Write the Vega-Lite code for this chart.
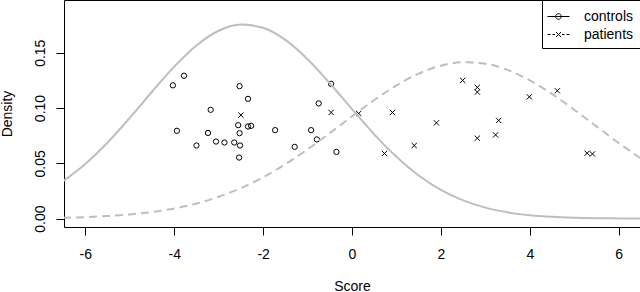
{
  "$schema": "https://vega.github.io/schema/vega-lite/v6.json",
  "width": 576,
  "height": 227,
  "autosize": {"type": "none"},
  "padding": {"left": 64, "top": 0, "right": 0, "bottom": 65},
  "background": "white",
  "config": {
    "font": "Liberation Sans",
    "view": {"stroke": "black", "strokeWidth": 1},
    "axis": {"grid": false, "domain": false, "tickColor": "black", "tickWidth": 1, "tickSize": 8, "labelColor": "black", "labelFontSize": 14, "titleColor": "black", "titleFontSize": 14, "titleFontWeight": "normal"}
  },
  "datasets": {
    "points": [
      {"Score": -4.03, "Density": 0.1205, "group": "controls"},
      {"Score": -3.78, "Density": 0.1292, "group": "controls"},
      {"Score": -3.94, "Density": 0.0794, "group": "controls"},
      {"Score": -3.50, "Density": 0.0661, "group": "controls"},
      {"Score": -3.18, "Density": 0.0984, "group": "controls"},
      {"Score": -3.24, "Density": 0.0775, "group": "controls"},
      {"Score": -3.06, "Density": 0.0697, "group": "controls"},
      {"Score": -2.87, "Density": 0.0688, "group": "controls"},
      {"Score": -2.65, "Density": 0.0688, "group": "controls"},
      {"Score": -2.53, "Density": 0.1198, "group": "controls"},
      {"Score": -2.34, "Density": 0.1083, "group": "controls"},
      {"Score": -2.56, "Density": 0.0845, "group": "controls"},
      {"Score": -2.53, "Density": 0.0773, "group": "controls"},
      {"Score": -2.52, "Density": 0.0661, "group": "controls"},
      {"Score": -2.54, "Density": 0.0552, "group": "controls"},
      {"Score": -2.34, "Density": 0.0833, "group": "controls"},
      {"Score": -2.27, "Density": 0.0839, "group": "controls"},
      {"Score": -1.73, "Density": 0.0800, "group": "controls"},
      {"Score": -1.29, "Density": 0.0649, "group": "controls"},
      {"Score": -0.92, "Density": 0.0800, "group": "controls"},
      {"Score": -0.75, "Density": 0.1042, "group": "controls"},
      {"Score": -0.79, "Density": 0.0716, "group": "controls"},
      {"Score": -0.47, "Density": 0.1219, "group": "controls"},
      {"Score": -0.35, "Density": 0.0603, "group": "controls"},
      {"Score": -2.50, "Density": 0.0936, "group": "patients"},
      {"Score": -0.47, "Density": 0.0960, "group": "patients"},
      {"Score": 0.15, "Density": 0.0951, "group": "patients"},
      {"Score": 0.73, "Density": 0.0589, "group": "patients"},
      {"Score": 0.91, "Density": 0.0960, "group": "patients"},
      {"Score": 1.40, "Density": 0.0661, "group": "patients"},
      {"Score": 1.90, "Density": 0.0866, "group": "patients"},
      {"Score": 2.49, "Density": 0.1250, "group": "patients"},
      {"Score": 2.82, "Density": 0.1187, "group": "patients"},
      {"Score": 2.82, "Density": 0.1144, "group": "patients"},
      {"Score": 2.82, "Density": 0.0727, "group": "patients"},
      {"Score": 3.23, "Density": 0.0757, "group": "patients"},
      {"Score": 3.30, "Density": 0.0888, "group": "patients"},
      {"Score": 3.99, "Density": 0.1101, "group": "patients"},
      {"Score": 4.62, "Density": 0.1156, "group": "patients"},
      {"Score": 5.29, "Density": 0.0591, "group": "patients"},
      {"Score": 5.41, "Density": 0.0585, "group": "patients"}
    ],
    "curves": [
      {"Score": -6.5, "Density": 0.03380, "group": "controls"},
      {"Score": -6.0, "Density": 0.04940, "group": "controls"},
      {"Score": -5.5, "Density": 0.06880, "group": "controls"},
      {"Score": -5.0, "Density": 0.09110, "group": "controls"},
      {"Score": -4.5, "Density": 0.11470, "group": "controls"},
      {"Score": -4.0, "Density": 0.13740, "group": "controls"},
      {"Score": -3.5, "Density": 0.15660, "group": "controls"},
      {"Score": -3.0, "Density": 0.16990, "group": "controls"},
      {"Score": -2.5, "Density": 0.17550, "group": "controls"},
      {"Score": -2.0, "Density": 0.17260, "group": "controls"},
      {"Score": -1.5, "Density": 0.16160, "group": "controls"},
      {"Score": -1.0, "Density": 0.14410, "group": "controls"},
      {"Score": -0.5, "Density": 0.12240, "group": "controls"},
      {"Score": 0.0, "Density": 0.09900, "group": "controls"},
      {"Score": 0.5, "Density": 0.07620, "group": "controls"},
      {"Score": 1.0, "Density": 0.05590, "group": "controls"},
      {"Score": 1.5, "Density": 0.03900, "group": "controls"},
      {"Score": 2.0, "Density": 0.02594, "group": "controls"},
      {"Score": 2.5, "Density": 0.01642, "group": "controls"},
      {"Score": 3.0, "Density": 0.00990, "group": "controls"},
      {"Score": 3.5, "Density": 0.00568, "group": "controls"},
      {"Score": 4.0, "Density": 0.00310, "group": "controls"},
      {"Score": 4.5, "Density": 0.00162, "group": "controls"},
      {"Score": 5.0, "Density": 0.00081, "group": "controls"},
      {"Score": 5.5, "Density": 0.00038, "group": "controls"},
      {"Score": 6.0, "Density": 0.00017, "group": "controls"},
      {"Score": 6.5, "Density": 0.00007, "group": "controls"},
      {"Score": -6.5, "Density": 0.00078, "group": "patients"},
      {"Score": -6.0, "Density": 0.00135, "group": "patients"},
      {"Score": -5.5, "Density": 0.00229, "group": "patients"},
      {"Score": -5.0, "Density": 0.00375, "group": "patients"},
      {"Score": -4.5, "Density": 0.00595, "group": "patients"},
      {"Score": -4.0, "Density": 0.00915, "group": "patients"},
      {"Score": -3.5, "Density": 0.01363, "group": "patients"},
      {"Score": -3.0, "Density": 0.01970, "group": "patients"},
      {"Score": -2.5, "Density": 0.02757, "group": "patients"},
      {"Score": -2.0, "Density": 0.03740, "group": "patients"},
      {"Score": -1.5, "Density": 0.04917, "group": "patients"},
      {"Score": -1.0, "Density": 0.06263, "group": "patients"},
      {"Score": -0.5, "Density": 0.07731, "group": "patients"},
      {"Score": 0.0, "Density": 0.09249, "group": "patients"},
      {"Score": 0.5, "Density": 0.10721, "group": "patients"},
      {"Score": 1.0, "Density": 0.12044, "group": "patients"},
      {"Score": 1.5, "Density": 0.13111, "group": "patients"},
      {"Score": 2.0, "Density": 0.13830, "group": "patients"},
      {"Score": 2.5, "Density": 0.14138, "group": "patients"},
      {"Score": 3.0, "Density": 0.14005, "group": "patients"},
      {"Score": 3.5, "Density": 0.13445, "group": "patients"},
      {"Score": 4.0, "Density": 0.12507, "group": "patients"},
      {"Score": 4.5, "Density": 0.11274, "group": "patients"},
      {"Score": 5.0, "Density": 0.09849, "group": "patients"},
      {"Score": 5.5, "Density": 0.08337, "group": "patients"},
      {"Score": 6.0, "Density": 0.06839, "group": "patients"},
      {"Score": 6.5, "Density": 0.05437, "group": "patients"}
    ]
  },
  "encoding": {
    "x": {
      "field": "Score", "type": "quantitative",
      "scale": {"domain": [-6.48, 6.48], "nice": false, "zero": false},
      "axis": {
        "values": [-6, -4, -2, 0, 2, 4, 6],
        "labelExpr": "datum.value < 0 ? '-' + abs(datum.value) : '' + datum.value",
        "labelPadding": 12, "labelBaseline": "top", "labelAlign": "center",
        "title": "Score", "titleX": 288, "titleY": 63, "titleBaseline": "alphabetic", "titleAlign": "center"
      }
    },
    "y": {
      "field": "Density", "type": "quantitative",
      "scale": {"domain": [-0.0076, 0.1977], "nice": false, "zero": false},
      "axis": {
        "values": [0, 0.05, 0.1, 0.15], "format": ".2f",
        "labelAngle": 270, "labelAlign": "center", "labelBaseline": "alphabetic", "labelPadding": 12,
        "title": "Density", "titleAngle": 270, "titleAlign": "center", "titleBaseline": "alphabetic", "titleX": -52.5, "titleY": 113.5
      }
    }
  },
  "layer": [
    {
      "data": {"name": "points"},
      "transform": [{"filter": "datum.group === 'controls'"}],
      "mark": {"type": "point", "shape": "circle", "filled": false, "color": "black", "size": 28, "strokeWidth": 1, "opacity": 1}
    },
    {
      "data": {"name": "points"},
      "transform": [{"filter": "datum.group === 'patients'"}],
      "mark": {"type": "point", "shape": "M-1,-1L1,1M-1,1L1,-1", "filled": false, "color": "black", "size": 28, "strokeWidth": 1, "opacity": 1}
    },
    {
      "data": {"name": "curves"},
      "transform": [{"filter": "datum.group === 'controls'"}],
      "mark": {"type": "line", "color": "#bebebe", "strokeWidth": 2, "clip": true, "interpolate": "monotone"}
    },
    {
      "data": {"name": "curves"},
      "transform": [{"filter": "datum.group === 'patients'"}],
      "mark": {"type": "line", "color": "#bebebe", "strokeWidth": 2, "strokeDash": [8, 5], "clip": true, "interpolate": "monotone"}
    },
    {
      "data": {"name": "points"},
      "mark": {"type": "point", "opacity": 0, "filled": false},
      "encoding": {
        "shape": {
          "field": "group", "type": "nominal",
          "scale": {
            "domain": ["controls", "patients"],
            "range": [
              "M-1.1,0L1.1,0M-0.28,0A0.28,0.28,0,1,1,0.28,0A0.28,0.28,0,1,1,-0.28,0",
              "M-1.1,0L-0.8,0M-0.6,0L-0.35,0M0.35,0L0.6,0M0.8,0L1.1,0M-0.25,-0.25L0.25,0.25M-0.25,0.25L0.25,-0.25"
            ]
          },
          "legend": {
            "title": null, "orient": "none", "legendX": 478, "legendY": 0, "direction": "vertical",
            "padding": 6, "strokeColor": "black", "fillColor": "white", "cornerRadius": 0,
            "symbolSize": 400, "symbolStrokeColor": "black", "symbolStrokeWidth": 1, "symbolFillColor": "transparent", "symbolOpacity": 1,
            "labelFontSize": 14, "labelColor": "black", "labelOffset": 15, "rowPadding": -3
          }
        }
      }
    }
  ]
}
